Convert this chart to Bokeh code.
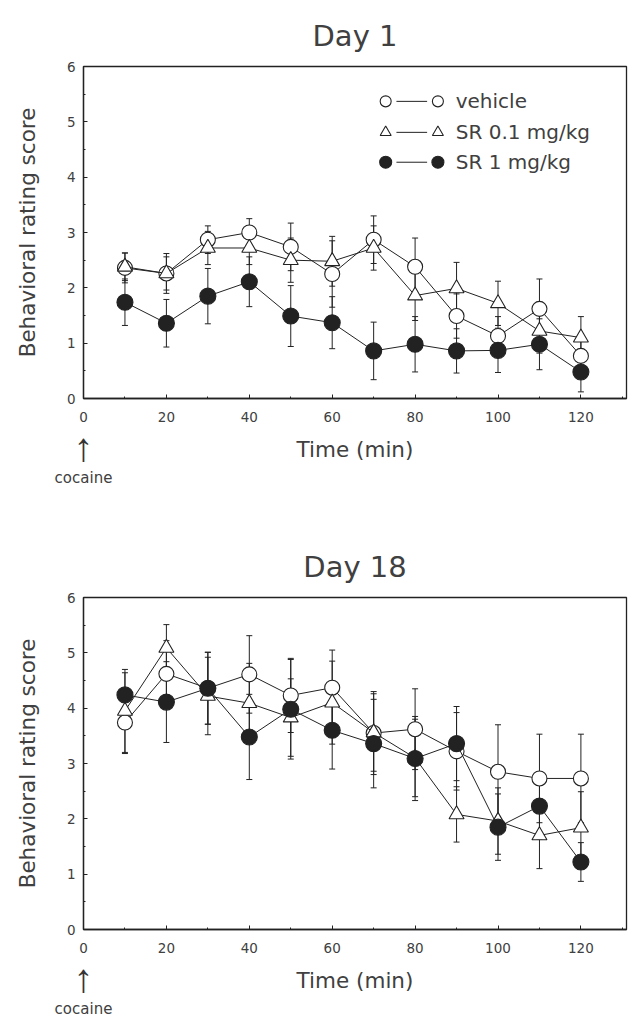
from bokeh.plotting import figure
from bokeh.models import (ColumnDataSource, Whisker, TeeHead, Range1d, SingleIntervalTicker,
                          FixedTicker, LinearAxis, Label)
from bokeh.layouts import column
from bokeh.embed import file_html
from bokeh.resources import INLINE

FONT = "DejaVu Sans"
INK = "#222222"
TXT = "#404040"

time_min = [10, 20, 30, 40, 50, 60, 70, 80, 90, 100, 110, 120]

# Day 1
d1_vehicle = [2.36, 2.26, 2.87, 3.00, 2.74, 2.25, 2.87, 2.38, 1.49, 1.13, 1.62, 0.77]
d1_vehicle_err = [0.27, 0.36, 0.25, 0.25, 0.43, 0.60, 0.43, 0.52, 0.40, 0.35, 0.54, 0.30]
d1_sr01 = [2.38, 2.26, 2.72, 2.72, 2.50, 2.48, 2.72, 1.86, 1.99, 1.72, 1.22, 1.10]
d1_sr01_err = [0.25, 0.30, 0.30, 0.30, 0.40, 0.45, 0.40, 0.45, 0.47, 0.40, 0.40, 0.38]
d1_sr1 = [1.74, 1.36, 1.85, 2.11, 1.49, 1.37, 0.86, 0.98, 0.86, 0.87, 0.98, 0.48]
d1_sr1_err = [0.42, 0.43, 0.50, 0.45, 0.55, 0.47, 0.52, 0.50, 0.40, 0.40, 0.46, 0.36]

# Day 18
d18_vehicle = [3.74, 4.62, 4.36, 4.61, 4.23, 4.37, 3.55, 3.62, 3.22, 2.85, 2.73, 2.73]
d18_vehicle_err = [0.56, 0.60, 0.65, 0.70, 0.67, 0.68, 0.75, 0.73, 0.70, 0.85, 0.80, 0.80]
d18_sr01 = [3.95, 5.09, 4.22, 4.09, 3.83, 4.10, 3.56, 3.10, 2.08, 1.96, 1.70, 1.84]
d18_sr01_err = [0.75, 0.42, 0.70, 0.72, 0.70, 0.75, 0.70, 0.70, 0.50, 0.60, 0.60, 0.65]
d18_sr1 = [4.24, 4.11, 4.36, 3.48, 3.98, 3.60, 3.36, 3.09, 3.36, 1.85, 2.23, 1.22]
d18_sr1_err = [0.40, 0.73, 0.65, 0.77, 0.90, 0.70, 0.80, 0.76, 0.67, 0.60, 0.60, 0.35]

series_names = ["vehicle", "SR 0.1 mg/kg", "SR 1 mg/kg"]
injection_time = [0]
injection_label = "cocaine"


def style_axis(ax, size="13.5px"):
    ax.axis_line_color = INK
    ax.axis_line_width = 1.3
    ax.major_tick_line_color = INK
    ax.minor_tick_line_color = INK
    ax.major_label_text_font = FONT
    ax.major_label_text_font_size = size
    ax.major_label_text_color = TXT
    ax.axis_label_text_font = FONT
    ax.axis_label_text_font_size = "21.5px"
    ax.axis_label_text_font_style = "normal"
    ax.axis_label_text_color = TXT


def make_panel(title, vals, errs, height, top_border, bottom_border, legend):
    p = figure(width=629, height=height, output_backend="svg", toolbar_location=None,
               x_range=Range1d(0, 131), y_range=Range1d(0, 6),
               min_border_left=83, min_border_right=3,
               min_border_top=top_border, min_border_bottom=bottom_border)
    p.title.text = title
    p.title.align = "center"
    p.title.text_font = FONT
    p.title.text_font_size = "29px"
    p.title.text_font_style = "normal"
    p.title.text_color = TXT
    p.title.standoff = 28
    p.grid.visible = False
    p.outline_line_color = INK
    p.outline_line_width = 1.3

    xa = p.xaxis[0]
    ya = p.yaxis[0]
    xa.ticker = SingleIntervalTicker(interval=20, num_minor_ticks=2)
    ya.ticker = SingleIntervalTicker(interval=1, num_minor_ticks=2)
    for ax in (xa, ya):
        style_axis(ax)
        ax.major_tick_in = 4
        ax.major_tick_out = 0
        ax.minor_tick_in = 2
        ax.minor_tick_out = 0
    ya.axis_label = "Behavioral rating score"
    xa.major_label_standoff = 13
    ya.major_label_standoff = 8
    ya.axis_label_standoff = 24

    markers = [("circle", "white", 15), ("triangle", "white", 15), ("circle", INK, 16)]
    for (mk, fill, size), v, e in zip(markers, vals, errs):
        src = ColumnDataSource(dict(x=time_min, y=v,
                                    lo=[a - b for a, b in zip(v, e)],
                                    hi=[a + b for a, b in zip(v, e)]))
        p.line("x", "y", source=src, line_color=INK, line_width=1)
        p.scatter("x", "y", source=src, marker=mk, size=size, fill_color=fill,
                  line_color=INK, line_width=1.1)
        p.add_layout(Whisker(source=src, base="x", lower="lo", upper="hi",
                             line_color=INK, line_width=1,
                             upper_head=TeeHead(size=6, line_color=INK, line_width=1),
                             lower_head=TeeHead(size=6, line_color=INK, line_width=1)))

    # cocaine injection arrow, drawn in the space below the x axis:
    # the arrow is the tick label of a second axis, then "cocaine" is the
    # tick label of a third axis that also carries "Time (min)"
    head = LinearAxis(ticker=FixedTicker(ticks=injection_time),
                      major_label_overrides={injection_time[0]: "\u2191"})
    style_axis(head, "40px")
    head.major_label_text_font = "Liberation Sans"
    head.major_label_text_color = "#333333"
    head.axis_line_color = None
    head.major_tick_line_color = None
    head.minor_tick_line_color = None
    head.major_tick_out = 0
    head.major_tick_in = 0
    head.major_label_standoff = 0
    p.add_layout(head, "below")

    shaft = LinearAxis(ticker=FixedTicker(ticks=injection_time),
                       major_label_overrides={injection_time[0]: injection_label},
                       axis_label="Time (min)")
    style_axis(shaft, "15px")
    shaft.axis_line_color = None
    shaft.major_tick_line_color = None
    shaft.minor_tick_line_color = None
    shaft.major_tick_in = 0
    shaft.major_tick_out = 0
    shaft.major_label_standoff = -3
    shaft.axis_label_standoff = -53
    p.add_layout(shaft, "below")

    if legend:
        lx0, lx1, tx = 72.9, 85.5, 89.8
        ly = [5.37, 4.81, 4.27]
        for (mk, fill, size), name, yy in zip(markers, series_names, ly):
            p.segment(x0=[lx0 + 2.6], y0=[yy], x1=[lx1 - 2.6], y1=[yy], line_color=INK, line_width=1)
            p.scatter([lx0, lx1], [yy, yy], marker=mk, size=size - 4, fill_color=fill,
                      line_color=INK, line_width=1.1)
            p.add_layout(Label(x=tx, y=yy, text=name, text_baseline="middle",
                               text_font=FONT, text_font_size="20px", text_color=TXT))
    return p


p1 = make_panel("Day 1", [d1_vehicle, d1_sr01, d1_sr1],
                [d1_vehicle_err, d1_sr01_err, d1_sr1_err], 497, 66, 99, True)
p2 = make_panel("Day 18", [d18_vehicle, d18_sr01, d18_sr1],
                [d18_vehicle_err, d18_sr01_err, d18_sr1_err], 522, 100, 90, False)

p = column(p1, p2, spacing=0)
open("out.html", "w").write(file_html(p, INLINE))
